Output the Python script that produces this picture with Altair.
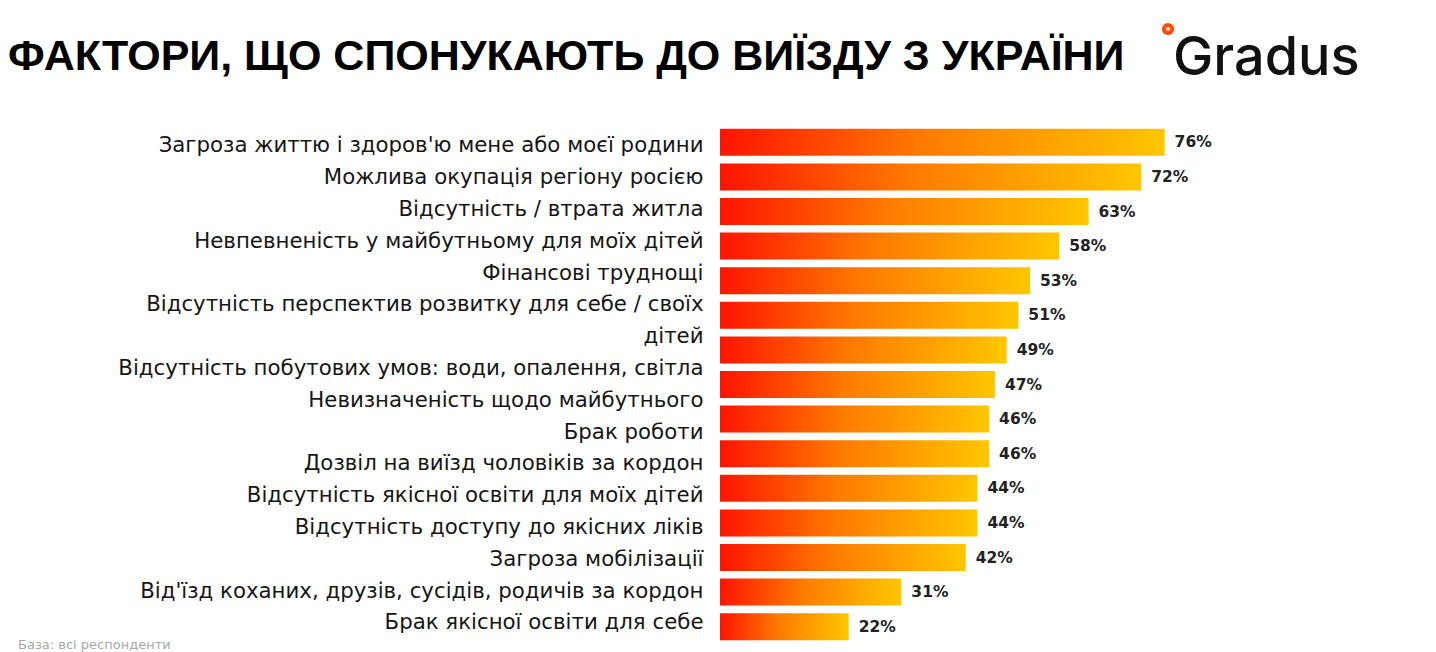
import json
import altair as alt
import pandas as pd

title_text = "ФАКТОРИ, ЩО СПОНУКАЮТЬ ДО ВИЇЗДУ З УКРАЇНИ"
footnote = "База: всі респонденти"
brand = "Gradus"

categories = [
    "Загроза життю і здоров'ю мене або моєї родини",
    "Можлива окупація регіону росією",
    "Відсутність / втрата житла",
    "Невпевненість у майбутньому для моїх дітей",
    "Фінансові труднощі",
    "Відсутність перспектив розвитку для себе / своїх\nдітей",
    "Відсутність побутових умов: води, опалення, світла",
    "Невизначеність щодо майбутнього",
    "Брак роботи",
    "Дозвіл на виїзд чоловіків за кордон",
    "Відсутність якісної освіти для моїх дітей",
    "Відсутність доступу до якісних ліків",
    "Загроза мобілізації",
    "Від'їзд коханих, друзів, сусідів, родичів за кордон",
    "Брак якісної освіти для себе",
]
values = [76, 72, 63, 58, 53, 51, 49, 47, 46, 46, 44, 44, 42, 31, 22]

df = pd.DataFrame({"cat": categories, "val": values})
df["lbl"] = df["val"].astype(str) + "%"

FONT = "Liberation Sans"
LFONT = "DejaVu Sans"

# Layout: the labels in the reference form one text block with a uniform
# line pitch, slightly tighter than the bar pitch.
HEIGHT = 519
BAND = HEIGHT / len(categories)
LINE = 31.8
conds = []
line_idx = 0
for i, c in enumerate(categories):
    off = 4 + line_idx * LINE - i * BAND
    conds.append({"test": "datum.value == " + json.dumps(c), "value": round(off, 1)})
    line_idx += c.count("\n") + 1

y_enc = alt.Y(
    "cat:N",
    sort=categories,
    title=None,
    scale=alt.Scale(paddingInner=0.22, paddingOuter=0.11),
    axis=alt.Axis(
        ticks=False,
        domain=False,
        grid=False,
        labelPadding=17,
        labelFontSize=21.3,
        labelFont=LFONT,
        labelColor="#161616",
        labelLimit=900,
        labelLineHeight=LINE,
        labelOffset={"condition": conds, "value": 0},
        labelExpr="split(datum.label, '\\n')",
    ),
)
x_enc = alt.X("val:Q", scale=alt.Scale(domain=[0, 100]), axis=None)

grad = alt.Gradient(
    gradient="linear",
    stops=[
        alt.GradientStop(color="#ff1400", offset=0),
        alt.GradientStop(color="#ff7a00", offset=0.45),
        alt.GradientStop(color="#ffc600", offset=1),
    ],
    x1=0, x2=1, y1=0, y2=0,
)

base = alt.Chart(df)
bars = base.mark_bar(color=grad).encode(x=x_enc, y=y_enc)
vals = base.mark_text(
    align="left", baseline="middle", dx=10, font=LFONT, fontSize=15.5,
    fontWeight="bold", color="#222222",
).encode(x=x_enc, y=y_enc, text="lbl:N")

one = lambda t: pd.DataFrame({"t": [t]})

title = alt.Chart(one(title_text)).mark_text(
    align="left", baseline="alphabetic", font=FONT, fontSize=43,
    fontWeight="bold", color="#000000",
).encode(x=alt.value(-712), y=alt.value(-55), text="t:N")

logo = alt.Chart(one(brand)).mark_text(
    align="left", baseline="alphabetic", font="Inter", fontSize=54,
    fontWeight=500, color="#111111",
).encode(x=alt.value(453), y=alt.value(-50), text="t:N")

dot = alt.Chart(one("o")).mark_point(
    shape="circle", filled=True, size=150, opacity=1, color="#ff4a10",
).encode(x=alt.value(448), y=alt.value(-96))
dot_in = alt.Chart(one("o")).mark_point(
    shape="circle", filled=True, size=18, opacity=1, color="#ffe2b0",
).encode(x=alt.value(448), y=alt.value(-96))

foot = alt.Chart(one(footnote)).mark_text(
    align="left", baseline="alphabetic", font=LFONT, fontSize=13,
    color="#a8a8a8",
).encode(x=alt.value(-702), y=alt.value(524), text="t:N")

chart = alt.layer(bars, vals, title, logo, dot, dot_in, foot).properties(
    width=585,
    height=HEIGHT,
    background="white",
    autosize=alt.AutoSizeParams(type="none"),
    padding={"left": 712, "top": 117, "right": 123, "bottom": 8},
).configure_view(stroke=None, strokeWidth=0)

chart.save("out.html", embed_options={"renderer": "svg", "actions": False})
